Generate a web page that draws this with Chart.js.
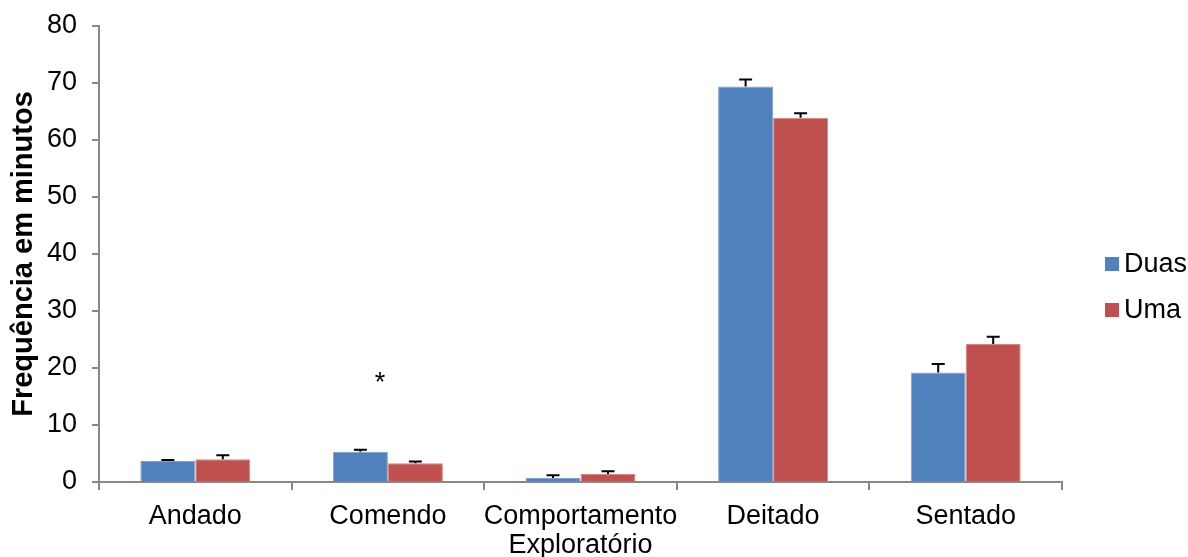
<!DOCTYPE html>
<html>
<head>
<meta charset="utf-8">
<script src="https://cdn.jsdelivr.net/npm/chart.js@4"></script>
<style>
  html, body { margin: 0; padding: 0; background: #fff; }
  #wrap { width: 1188px; height: 557px; }
</style>
</head>
<body>
<div id="wrap"><canvas id="chart" width="1188" height="557"></canvas></div>
<script>
const categories = ['Andado', 'Comendo', ['Comportamento', 'Exploratório'], 'Deitado', 'Sentado'];
const seriesNames = ['Duas', 'Uma'];
const duas = [3.7, 5.3, 0.7, 69.4, 19.2];
const uma = [4.0, 3.3, 1.4, 63.9, 24.2];
const errDuas = [0.15, 0.35, 0.5, 1.2, 1.5];
const errUma = [0.7, 0.3, 0.5, 0.8, 1.3];
const marks = ['', '*', '', '', ''];
const markValue = 18.4;
const yTicks = [0, 10, 20, 30, 40, 50, 60, 70, 80];

const FONT = 'Liberation Sans, Arial, sans-serif';
const AXIS = '#888888';

const errorBars = {
    id: 'errorBars',
    afterDatasetsDraw(chart)
    {
        const ctx = chart.ctx;
        const y = chart.scales.y;
        ctx.save();
        ctx.strokeStyle = '#000';
        ctx.lineWidth = 2;
        chart.data.datasets.forEach((ds, di) => {
            const meta = chart.getDatasetMeta(di);
            meta.data.forEach((bar, i) => {
                const top = y.getPixelForValue(ds.data[i] + ds.errors[i]);
                ctx.beginPath();
                ctx.moveTo(bar.x, bar.y);
                ctx.lineTo(bar.x, top);
                ctx.moveTo(bar.x - 6.5, top);
                ctx.lineTo(bar.x + 6.5, top);
                ctx.stroke();
            });
        });
        ctx.restore();
    }
};

const sigMarks = {
    id: 'sigMarks',
    afterDatasetsDraw(chart)
    {
        const ctx = chart.ctx;
        const x = chart.scales.x;
        const y = chart.scales.y;
        ctx.save();
        ctx.fillStyle = '#000';
        ctx.font = '27px ' + FONT;
        ctx.textAlign = 'center';
        ctx.textBaseline = 'middle';
        marks.forEach((m, i) => {
            if (m)
            {
                ctx.fillText(m, x.getPixelForValue(i) - 8, y.getPixelForValue(markValue) + 6);
            }
        });
        ctx.restore();
    }
};

const sideLegend = {
    id: 'sideLegend',
    afterDraw(chart)
    {
        const ctx = chart.ctx;
        ctx.save();
        ctx.font = '27px ' + FONT;
        ctx.textBaseline = 'middle';
        chart.data.datasets.forEach((ds, i) => {
            const cy = 264 + i * 46;
            ctx.fillStyle = ds.backgroundColor;
            ctx.fillRect(1105, cy - 7, 14, 14);
            ctx.fillStyle = '#000';
            ctx.fillText(ds.label, 1124, cy + 1);
        });
        ctx.restore();
    }
};

new Chart(document.getElementById('chart'), {
    type: 'bar',
    data: {
        labels: categories,
        datasets: [
            {
                label: seriesNames[0],
                data: duas,
                errors: errDuas,
                backgroundColor: '#4F81BD',
                borderColor: '#7FA3D0',
                borderWidth: 1
            },
            {
                label: seriesNames[1],
                data: uma,
                errors: errUma,
                backgroundColor: '#C0504D',
                borderColor: '#D58684',
                borderWidth: 1
            }
        ]
    },
    options: {
        responsive: false,
        animation: false,
        categoryPercentage: 0.571,
        barPercentage: 1,
        layout: { padding: { top: 26, right: 126, left: 0, bottom: 0 } },
        plugins: {
            legend: { display: false },
            tooltip: { enabled: false }
        },
        scales: {
            x: {
                afterFit: (s) => { s.height = 75; },
                grid: {
                    offset: true,
                    drawOnChartArea: false,
                    drawTicks: true,
                    tickLength: 8,
                    color: AXIS,
                    lineWidth: 2
                },
                border: { color: AXIS, width: 2 },
                ticks: {
                    color: '#000',
                    padding: 12,
                    maxRotation: 0,
                    autoSkip: false,
                    font: { family: FONT, size: 27, lineHeight: 1.08 }
                }
            },
            y: {
                min: 0,
                max: 80,
                afterFit: (s) => {
                    s.width = 99;
                    s.paddingTop = 0;
                    s.paddingBottom = 0;
                },
                afterBuildTicks: (s) => { s.ticks = yTicks.map((v) => ({ value: v })); },
                grid: {
                    drawOnChartArea: false,
                    drawTicks: true,
                    tickLength: 7,
                    color: AXIS,
                    lineWidth: 2
                },
                border: { color: AXIS, width: 2 },
                ticks: {
                    color: '#000',
                    padding: 15,
                    font: { family: FONT, size: 27 }
                },
                title: {
                    display: true,
                    text: 'Frequência em minutos',
                    color: '#000',
                    padding: { top: 7, bottom: 0 },
                    font: { family: FONT, size: 29, weight: 'bold' }
                }
            }
        }
    },
    plugins: [errorBars, sigMarks, sideLegend]
});
</script>
</body>
</html>
